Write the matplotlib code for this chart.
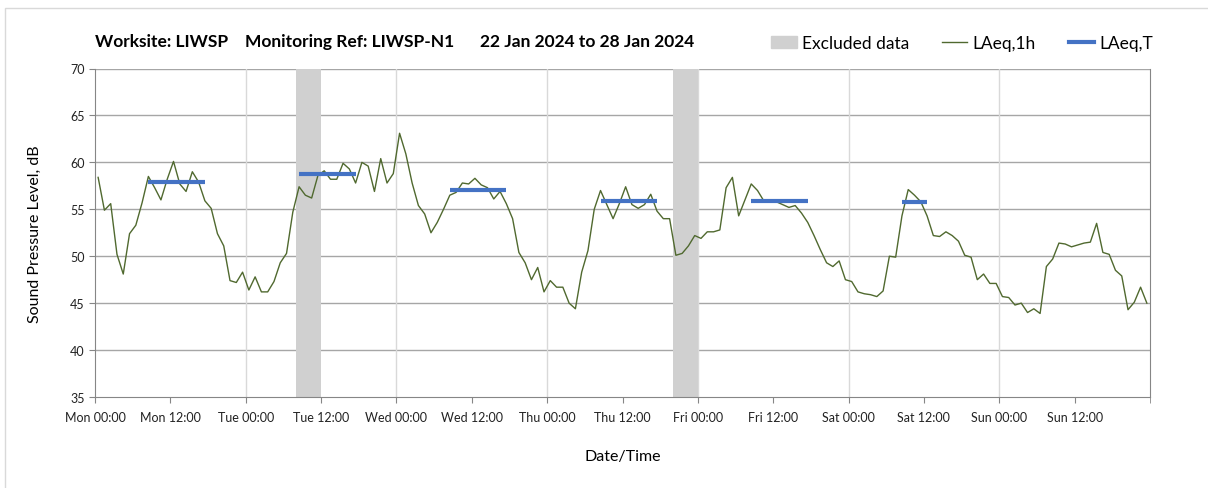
import matplotlib
matplotlib.use('Agg')
import matplotlib.pyplot as plt
from matplotlib.patches import Patch, Rectangle
from matplotlib.lines import Line2D

plt.rcParams['font.family'] = ['Lato', 'DejaVu Sans']

# hourly LAeq,1h values, Mon 00:00 .. Sun 23:00 (168 hours)
laeq_1h = [
    58.4, 54.9, 55.6, 50.2, 48.1, 52.4, 53.3, 55.7, 58.5, 57.3, 56.0, 58.2,
    60.1, 57.7, 56.9, 59.0, 57.9, 55.9, 55.1, 52.4, 51.1, 47.4, 47.2, 48.3,
    46.4, 47.8, 46.2, 46.2, 47.3, 49.3, 50.3, 54.7, 57.4, 56.5, 56.2, 58.6,
    59.1, 58.2, 58.2, 59.9, 59.3, 57.8, 60.0, 59.6, 56.9, 60.4, 57.8, 58.8,
    63.1, 60.9, 57.8, 55.4, 54.5, 52.5, 53.6, 55.0, 56.5, 56.8, 57.8, 57.7,
    58.3, 57.6, 57.3, 56.1, 56.9, 55.6, 54.0, 50.4, 49.3, 47.5, 48.8, 46.2,
    47.4, 46.7, 46.7, 45.0, 44.4, 48.3, 50.6, 55.0, 57.0, 55.5, 54.0, 55.6,
    57.4, 55.5, 55.1, 55.5, 56.6, 54.8, 54.0, 54.0, 50.1, 50.3, 51.1, 52.2,
    51.9, 52.6, 52.6, 52.8, 57.3, 58.4, 54.3, 56.0, 57.7, 57.0, 55.9, 55.8,
    55.8, 55.5, 55.2, 55.4, 54.6, 53.6, 52.2, 50.7, 49.3, 48.9, 49.5, 47.5,
    47.3, 46.2, 46.0, 45.9, 45.7, 46.3, 50.0, 49.9, 54.3, 57.1, 56.5, 55.8,
    54.3, 52.2, 52.1, 52.6, 52.2, 51.6, 50.1, 49.9, 47.5, 48.1, 47.1, 47.1,
    45.7, 45.6, 44.8, 45.0, 44.0, 44.4, 43.9, 48.9, 49.7, 51.4, 51.3, 51.0,
    51.2, 51.4, 51.5, 53.5, 50.4, 50.2, 48.5, 47.9, 44.3, 45.1, 46.7, 45.0,
]

# LAeq,T periods: first hour, last hour, level
period_start = [8, 32, 56, 80, 104, 128]
period_end = [17, 41, 65, 89, 113, 132]
period_level = [57.9, 58.8, 57.1, 55.9, 55.9, 55.8]

# excluded data (hour ranges)
excl_start = [32, 92]
excl_end = [36, 96]

days = ['Mon', 'Tue', 'Wed', 'Thu', 'Fri', 'Sat', 'Sun']
tick_labels = []
for d in days:
    tick_labels += [d + ' 00:00', d + ' 12:00']

fig = plt.figure(figsize=(12.08, 4.89), dpi=100)
ax = fig.add_axes([95 / 1208, 1 - 398 / 489, (1150 - 95) / 1208, (398 - 69.5) / 489])

# outer chart-area border
fig.patches.append(Rectangle((5 / 1208, -0.1), 1.2, 1 - 9 / 489 + 0.1, transform=fig.transFigure,
                             fill=False, edgecolor='#d9d9d9', linewidth=1))

for s, e in zip(excl_start, excl_end):
    ax.axvspan(s, e, color='#d0d0d0', linewidth=0, zorder=1)

x = [i + 0.5 for i in range(len(laeq_1h))]
ax.plot(x, laeq_1h, color='#50692f', linewidth=1.0, zorder=3)

for s, e, v in zip(period_start, period_end, period_level):
    ax.plot([s + 0.5, e + 0.5], [v, v], color='#4472c4', linewidth=3, solid_capstyle='butt', zorder=4)

ax.set_xlim(0, 168)
ax.set_ylim(35, 70)
ax.set_yticks(range(35, 71, 5))
ax.set_xticks(range(0, 168, 12))
ax.set_xticklabels(tick_labels)
ax.set_xticks(range(0, 169, 12), minor=True)

ax.grid(False)
for y in range(40, 71, 5):
    ax.axhline(y, color='#a6a6a6', linewidth=1, zorder=0)
for d in range(24, 168, 24):
    ax.axvline(d, color='#d9d9d9', linewidth=1, zorder=0)

ax.spines['top'].set_visible(False)
ax.spines['left'].set_color('#868686')
ax.spines['bottom'].set_color('#868686')
ax.spines['right'].set_color('#868686')
ax.tick_params(axis='both', which='both', direction='out', color='#868686', length=4,
               labelsize=9, labelcolor='#222222')
ax.tick_params(axis='x', which='major', length=4, pad=6)

ax.set_ylabel('Sound Pressure Level, dB', fontsize=11.5, labelpad=20)
ax.set_xlabel('Date/Time', fontsize=11.5, labelpad=19)

ty = 1 - 42 / 489
fig.text(95 / 1208, ty, 'Worksite: LIWSP', fontsize=12.5, fontweight='bold', va='center')
fig.text(245 / 1208, ty, 'Monitoring Ref: LIWSP-N1', fontsize=12.5, fontweight='bold', va='center')
fig.text(480 / 1208, ty, '22 Jan 2024 to 28 Jan 2024', fontsize=12.5, fontweight='bold', va='center')

handles = [Patch(color='#d0d0d0', label='Excluded data'),
           Line2D([], [], color='#50692f', linewidth=1, label='LAeq,1h'),
           Line2D([], [], color='#4472c4', linewidth=3, label='LAeq,T')]
fig.legend(handles=handles, loc='center right', bbox_to_anchor=(1165 / 1208, 1 - 44 / 489),
           ncol=3, frameon=False, fontsize=12.5, columnspacing=1.9, handlelength=1.45,
           handletextpad=0.3, borderpad=0.2)

fig.savefig('out.png', dpi=100)
